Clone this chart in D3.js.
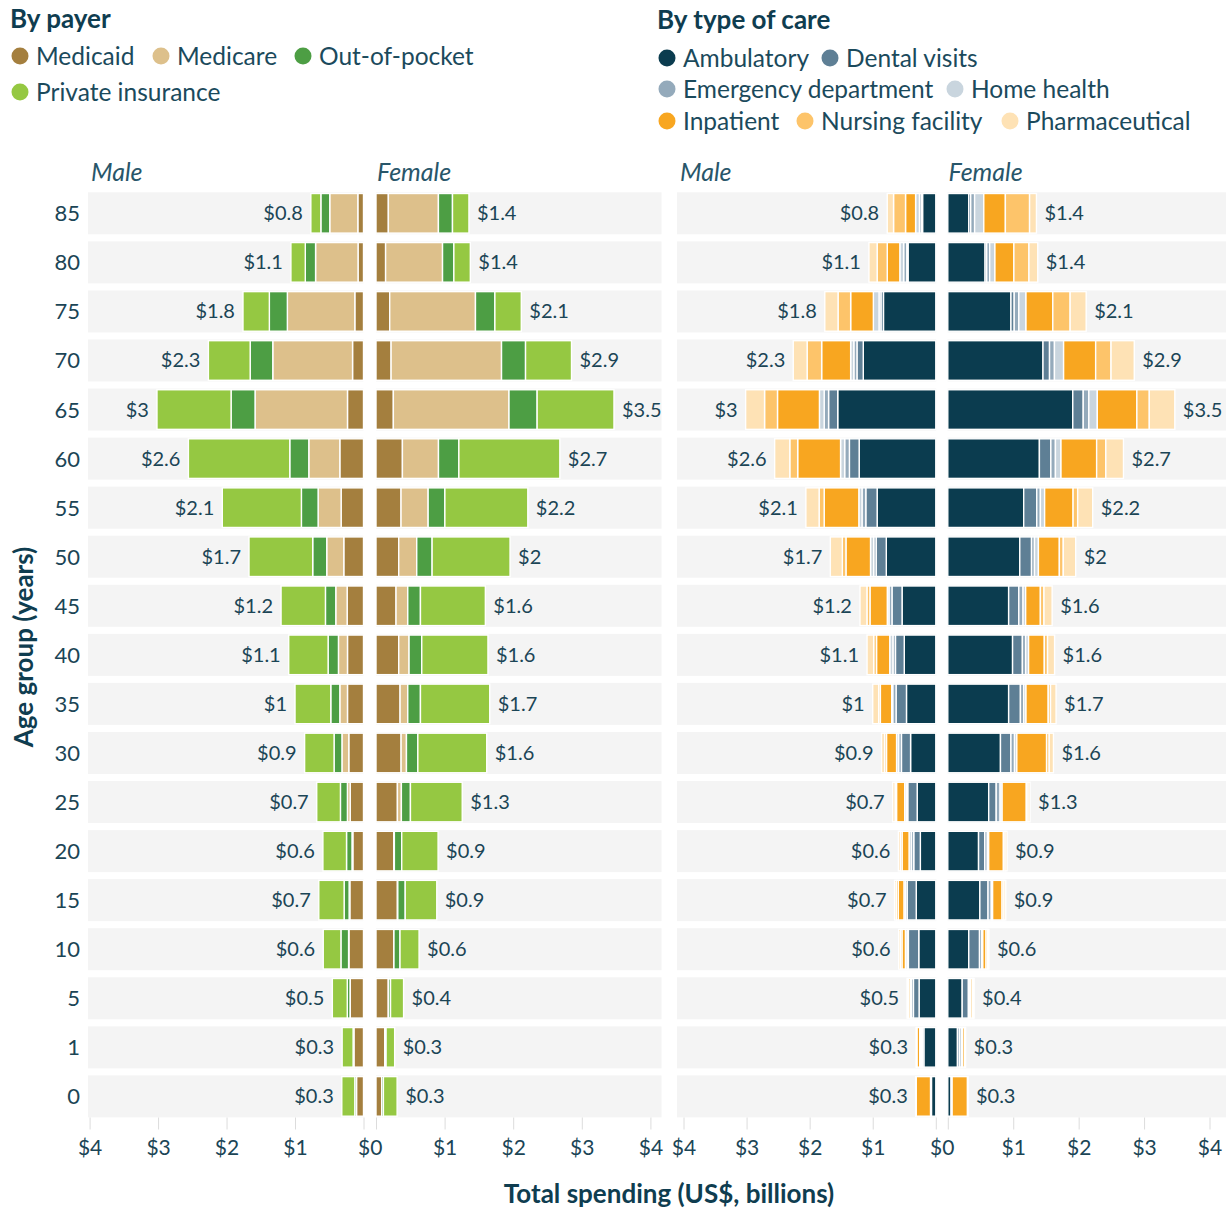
<!DOCTYPE html>
<html><head><meta charset="utf-8">
<script src="https://cdn.jsdelivr.net/npm/d3@7"></script>
<style>
body{margin:0;background:#fff;}
svg{display:block;font-family:Lato,"Open Sans",sans-serif;}
</style></head>
<body><svg id="c" width="1231" height="1209"></svg>
<script>
// ---------- DATA ----------
const ages = ["85","80","75","70","65","60","55","50","45","40","35","30","25","20","15","10","5","1","0"];
const maleTotals   = [0.8,1.1,1.8,2.3,3,2.6,2.1,1.7,1.2,1.1,1,0.9,0.7,0.6,0.7,0.6,0.5,0.3,0.3];
const femaleTotals = [1.4,1.4,2.1,2.9,3.5,2.7,2.2,2,1.6,1.6,1.7,1.6,1.3,0.9,0.9,0.6,0.4,0.3,0.3];
const tickValues = [0,1,2,3,4];

const payerKeys = ["Medicaid","Medicare","Out-of-pocket","Private insurance"];
const payerColors = ["#a47f3e","#ddc08b","#4d9e44","#95c842"];
const careKeys = ["Ambulatory","Dental visits","Emergency department","Home health","Inpatient","Nursing facility","Pharmaceutical"];
const careColors = ["#0b3c4f","#5e7f95","#94aabb","#c9d5de","#f8a620","#fdc46a","#fee2b5"];

// By payer (US$ billions), male
const maleMedicaid = [0.083,0.08,0.127,0.16,0.234,0.346,0.327,0.288,0.239,0.234,0.234,0.215,0.195,0.156,0.2,0.214,0.195,0.14,0.102];
const maleMedicare = [0.41,0.62,0.985,1.165,1.35,0.453,0.336,0.249,0.166,0.132,0.112,0.1,0.04,0.012,0.01,0.004,0.002,0,0];
const maleOOP      = [0.13,0.15,0.263,0.33,0.35,0.278,0.244,0.205,0.151,0.151,0.132,0.115,0.102,0.08,0.073,0.112,0.04,0.012,0.025];
const malePrivate  = [0.146,0.21,0.385,0.61,1.082,1.48,1.155,0.93,0.648,0.575,0.522,0.43,0.346,0.345,0.37,0.258,0.218,0.16,0.19];
// By payer, female
const femMedicaid = [0.18,0.14,0.2,0.22,0.253,0.385,0.365,0.331,0.292,0.331,0.351,0.366,0.312,0.258,0.312,0.258,0.18,0.127,0.083];
const femMedicare = [0.73,0.83,1.25,1.61,1.686,0.526,0.395,0.263,0.171,0.151,0.112,0.078,0.058,0.01,0.006,0.004,0.002,0,0];
const femOOP      = [0.205,0.165,0.283,0.35,0.41,0.297,0.244,0.224,0.185,0.185,0.185,0.166,0.132,0.107,0.108,0.088,0.03,0.02,0.025];
const femPrivate  = [0.24,0.24,0.385,0.67,1.12,1.472,1.209,1.136,0.946,0.965,1.01,1.004,0.755,0.53,0.46,0.278,0.19,0.125,0.2];

// By type of care, male
const maleAmb    = [0.21,0.44,0.83,1.15,1.555,1.215,0.93,0.785,0.535,0.5,0.465,0.4,0.295,0.245,0.31,0.27,0.265,0.19,0.069];
const maleDental = [0.02,0.02,0.04,0.1,0.145,0.155,0.18,0.16,0.16,0.14,0.165,0.145,0.15,0.105,0.143,0.165,0.09,0.025,0.005];
const maleED     = [0.03,0.05,0.03,0.05,0.07,0.075,0.06,0.04,0.048,0.04,0.053,0.045,0.022,0.037,0.026,0.021,0.032,0.02,0.005];
const maleHH     = [0.06,0.06,0.09,0.05,0.075,0.065,0.05,0.05,0.026,0.05,0.016,0.032,0.026,0.037,0.026,0.026,0.016,0.02,0.005];
const maleInp    = [0.16,0.2,0.36,0.46,0.665,0.68,0.55,0.39,0.275,0.21,0.18,0.16,0.13,0.111,0.09,0.055,0.026,0.045,0.228];
const maleNF     = [0.19,0.16,0.2,0.23,0.205,0.125,0.08,0.057,0.048,0.045,0.026,0.03,0.022,0.026,0.032,0.026,0.012,0.006,0.003];
const malePharm  = [0.1,0.13,0.21,0.22,0.3,0.24,0.21,0.19,0.11,0.105,0.095,0.048,0.038,0.032,0.026,0.025,0.014,0.006,0.002];
// By type of care, female
const femAmb    = [0.32,0.57,0.965,1.455,1.91,1.4,1.16,1.1,0.93,0.99,0.93,0.805,0.625,0.47,0.49,0.32,0.22,0.148,0.051];
const femDental = [0.03,0.025,0.05,0.1,0.16,0.175,0.2,0.18,0.155,0.15,0.18,0.16,0.115,0.095,0.125,0.165,0.095,0.03,0.005];
const femED     = [0.06,0.045,0.07,0.075,0.085,0.07,0.055,0.045,0.065,0.05,0.05,0.055,0.06,0.04,0.05,0.035,0.02,0.03,0.005];
const femHH     = [0.14,0.08,0.11,0.14,0.13,0.085,0.065,0.06,0.04,0.045,0.035,0.035,0.03,0.02,0.02,0.015,0.02,0.02,0.005];
const femInp    = [0.33,0.29,0.41,0.49,0.605,0.545,0.435,0.32,0.225,0.24,0.34,0.455,0.37,0.225,0.145,0.05,0.026,0.03,0.235];
const femNF     = [0.37,0.23,0.265,0.235,0.19,0.14,0.07,0.06,0.055,0.05,0.035,0.04,0.026,0.025,0.028,0.025,0.012,0.007,0.004];
const femPharm  = [0.105,0.135,0.245,0.355,0.39,0.27,0.23,0.19,0.125,0.107,0.085,0.065,0.031,0.03,0.028,0.018,0.009,0.007,0.003];

// ---------- BUILD ----------
function rows(keys, arrays){
  return ages.map((a,i)=>{ const o={age:a}; keys.forEach((k,j)=>o[k]=arrays[j][i]); return o; });
}
const panels = [
  {keys:payerKeys, colors:payerColors, sex:"Male", data:rows(payerKeys,[maleMedicaid,maleMedicare,maleOOP,malePrivate]), totals:maleTotals,
   x:d3.scaleLinear().domain([0,4]).range([363.5,89.6]), bg:[88,363.5], dir:-1},
  {keys:payerKeys, colors:payerColors, sex:"Female", data:rows(payerKeys,[femMedicaid,femMedicare,femOOP,femPrivate]), totals:femaleTotals,
   x:d3.scaleLinear().domain([0,4]).range([376,650.4]), bg:[376,661.5], dir:1},
  {keys:careKeys, colors:careColors, sex:"Male", data:rows(careKeys,[maleAmb,maleDental,maleED,maleHH,maleInp,maleNF,malePharm]), totals:maleTotals,
   x:d3.scaleLinear().domain([0,4]).range([935.8,683.5]), bg:[677,936.3], dir:-1},
  {keys:careKeys, colors:careColors, sex:"Female", data:rows(careKeys,[femAmb,femDental,femED,femHH,femInp,femNF,femPharm]), totals:femaleTotals,
   x:d3.scaleLinear().domain([0,4]).range([947.8,1209.5]), bg:[947.5,1226], dir:1}
];

const svg = d3.select("#c");
const TXT = "#1b4556";
const y = d3.scaleBand().domain(ages).range([192.3,1117.4]).paddingInner(0.144).paddingOuter(0);
const bw = y.bandwidth();

panels.forEach((p,pi)=>{
  const g = svg.append("g");
  g.selectAll("rect.bg").data(ages).join("rect")
    .attr("x",p.bg[0]).attr("width",p.bg[1]-p.bg[0])
    .attr("y",d=>y(d)).attr("height",bw).attr("fill","#f4f4f4");
  const color = d3.scaleOrdinal().domain(p.keys).range(p.colors);
  const series = d3.stack().keys(p.keys)(p.data);
  g.selectAll("g.s").data(series).join("g").attr("fill",s=>color(s.key))
    .selectAll("rect").data(s=>s).join("rect")
    .attr("x",d=>Math.min(p.x(d[0]),p.x(d[1])))
    .attr("width",d=>Math.abs(p.x(d[1])-p.x(d[0])))
    .attr("y",d=>y(d.data.age)+1.2).attr("height",bw-2.4)
    .attr("stroke","#fff").attr("stroke-width",1.4);
  const last = series[series.length-1];
  g.selectAll("text.tot").data(last).join("text")
    .attr("x",(d)=>p.x(d[1]) + p.dir*8)
    .attr("y",d=>y(d.data.age)+bw/2+7)
    .attr("text-anchor",p.dir<0?"end":"start")
    .attr("font-size",20).attr("fill",TXT)
    .text((d,i)=>"$"+p.totals[i]);
  // axis
  const ax = svg.append("g").attr("transform","translate(0,1117.5)")
    .call(d3.axisBottom(p.x).tickValues(tickValues).tickFormat(d=>"$"+d).tickSize(12).tickPadding(11));
  ax.select(".domain").remove();
  ax.selectAll(".tick line").attr("stroke","#dcdcdc");
  ax.selectAll(".tick text").attr("font-size",21).attr("fill",TXT).attr("font-family","Lato,sans-serif");
  if (p.dir<0) {
    ax.selectAll(".tick text").filter(d=>d===0).remove();
  } else {
    const mate = panels[pi-1];
    const mid = (mate.x(0)+p.x(0))/2 - p.x(0);
    ax.selectAll(".tick text").filter(d=>d===0).attr("x",mid);
  }
  svg.append("text").attr("x",p.bg[0]+(p.dir<0?3:1)).attr("y",181)
    .attr("font-size",25).attr("font-style","italic").attr("fill","#28566a").text(p.sex);
});

// age labels
svg.append("g").selectAll("text").data(ages).join("text")
  .attr("x",80).attr("y",d=>y(d)+bw/2+8).attr("text-anchor","end")
  .attr("font-size",22).attr("fill",TXT).text(d=>d);

// axis titles
svg.append("text").attr("x",669).attr("y",1203).attr("text-anchor","middle")
  .attr("font-size",26).attr("font-weight","bold").attr("fill","#0f3d50").text("Total spending (US$, billions)");
svg.append("text").attr("transform","translate(33,647) rotate(-90)").attr("text-anchor","middle")
  .attr("font-size",26).attr("font-weight","bold").attr("fill","#0f3d50").text("Age group (years)");

// legends
svg.append("text").attr("x",10).attr("y",28).attr("font-size",26).attr("font-weight","bold").attr("fill","#0f3d50").text("By payer");
svg.append("text").attr("x",657).attr("y",29).attr("font-size",26).attr("font-weight","bold").attr("fill","#0f3d50").text("By type of care");
const payerPos = [[20,56],[161,56],[303,56],[20,92]];
const carePos = [[667,58],[830,58],[667,89],[955,89],[667,121],[805,121],[1010,121]];
function legend(keys, colors, pos){
  const lg = svg.append("g").selectAll("g").data(keys).join("g")
    .attr("transform",(d,i)=>`translate(${pos[i][0]},${pos[i][1]})`);
  lg.append("circle").attr("r",8.5).attr("fill",(d,i)=>colors[i]);
  lg.append("text").attr("x",16).attr("y",8.5).attr("font-size",24.5).attr("fill","#1b4a5c").text(d=>d);
}
legend(payerKeys,payerColors,payerPos);
legend(careKeys,careColors,carePos);
</script></body></html>
